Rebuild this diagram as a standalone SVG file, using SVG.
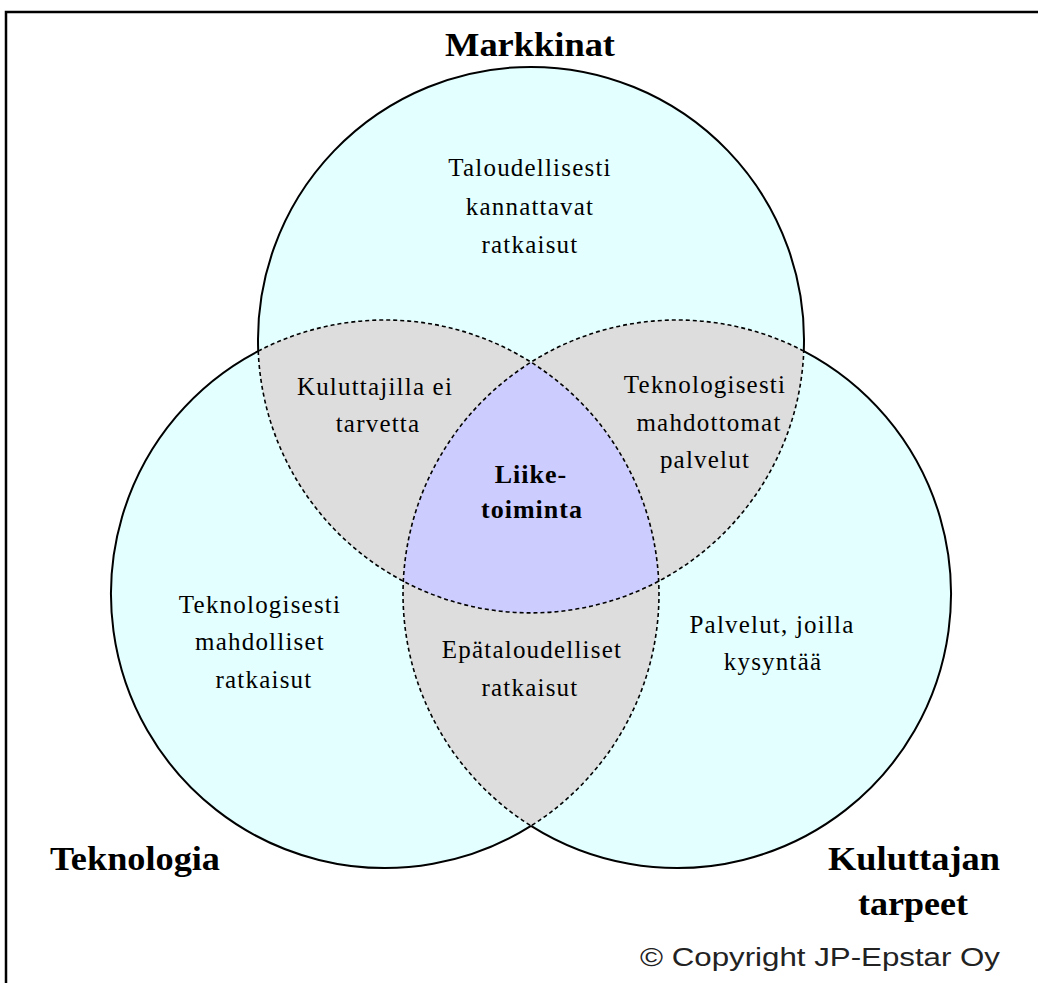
<svg xmlns="http://www.w3.org/2000/svg" width="1038" height="983" viewBox="0 0 1038 983">
  <style>
    .bg { fill: #ffffff; }
    .set { fill: #e3ffff; }
    .pair { fill: #dddddd; }
    .core { fill: #ccccff; }
    .outer { fill: none; stroke: #000; stroke-width: 2; }
    .inner { fill: none; stroke: #000; stroke-width: 1.6; stroke-dasharray: 4 3; }
    .frame { fill: none; stroke: #000; stroke-width: 2.5; }
    .lbl { font-family: "Liberation Serif", "Times New Roman", serif; font-size: 25px; letter-spacing: 1.2px; fill: #000; text-anchor: middle; }
    .ttl { font-family: "Liberation Serif", "Times New Roman", serif; font-size: 34px; font-weight: bold; fill: #000; }
    .core-lbl { font-family: "Liberation Serif", "Times New Roman", serif; font-size: 26px; font-weight: bold; letter-spacing: 1px; fill: #000; text-anchor: middle; }
    .copy { font-family: "Liberation Sans", Arial, sans-serif; font-size: 26px; fill: #222; }
  </style>
  <defs>
    <clipPath id="clipT"><circle cx="531" cy="340" r="273"/></clipPath>
    <clipPath id="clipL"><circle cx="385" cy="594" r="274"/></clipPath>
  </defs>

  <rect class="bg" x="0" y="0" width="1038" height="983"/>
  <path class="frame" d="M6,983 V12 H1038"/>

  <!-- circle fills -->
  <g id="set-markkinat"><circle class="set" cx="531" cy="340" r="273"/></g>
  <g id="set-teknologia"><circle class="set" cx="385" cy="594" r="274"/></g>
  <g id="set-tarpeet"><circle class="set" cx="677" cy="594" r="274"/></g>

  <!-- pairwise overlaps -->
  <g id="overlap-tl"><circle class="pair" cx="385" cy="594" r="274" clip-path="url(#clipT)"/></g>
  <g id="overlap-tr"><circle class="pair" cx="677" cy="594" r="274" clip-path="url(#clipT)"/></g>
  <g id="overlap-lr"><circle class="pair" cx="677" cy="594" r="274" clip-path="url(#clipL)"/></g>

  <!-- triple overlap -->
  <g id="overlap-core" clip-path="url(#clipT)"><circle class="core" cx="677" cy="594" r="274" clip-path="url(#clipL)"/></g>

  <!-- outlines: solid outside, dashed inside -->
  <g id="connectors">
    <path class="outer" d="M258.23,351.09 A273,273 0 1 1 803.77,351.09"/>
    <path class="inner" d="M258.23,351.09 A273,273 0 0 0 803.77,351.09"/>
    <path class="outer" d="M258.23,351.09 A274,274 0 1 0 531,825.86"/>
    <path class="inner" d="M258.23,351.09 A274,274 0 0 1 531,825.86"/>
    <path class="outer" d="M803.77,351.09 A274,274 0 1 1 531,825.86"/>
    <path class="inner" d="M803.77,351.09 A274,274 0 0 0 531,825.86"/>
  </g>

  <!-- set titles -->
  <g id="title-markkinat"><text class="ttl" x="445" y="56" textLength="170" lengthAdjust="spacingAndGlyphs">Markkinat</text></g>
  <g id="title-teknologia"><text class="ttl" x="50" y="870" textLength="170" lengthAdjust="spacingAndGlyphs">Teknologia</text></g>
  <g id="title-tarpeet">
    <text class="ttl" x="828" y="870" textLength="172" lengthAdjust="spacingAndGlyphs">Kuluttajan</text>
    <text class="ttl" x="858" y="915" textLength="110" lengthAdjust="spacingAndGlyphs">tarpeet</text>
  </g>

  <!-- region labels -->
  <g id="label-markkinat">
    <text class="lbl" x="530" y="176">Taloudellisesti</text>
    <text class="lbl" x="530" y="215">kannattavat</text>
    <text class="lbl" x="530" y="253">ratkaisut</text>
  </g>
  <g id="label-tl">
    <text class="lbl" x="375" y="395">Kuluttajilla ei</text>
    <text class="lbl" x="378" y="432">tarvetta</text>
  </g>
  <g id="label-tr">
    <text class="lbl" x="705" y="393">Teknologisesti</text>
    <text class="lbl" x="709" y="431">mahdottomat</text>
    <text class="lbl" x="705" y="468">palvelut</text>
  </g>
  <g id="label-core">
    <text class="core-lbl" x="531" y="483">Liike-</text>
    <text class="core-lbl" x="532" y="518">toiminta</text>
  </g>
  <g id="label-teknologia">
    <text class="lbl" x="260" y="613">Teknologisesti</text>
    <text class="lbl" x="260" y="650">mahdolliset</text>
    <text class="lbl" x="264" y="688">ratkaisut</text>
  </g>
  <g id="label-lr">
    <text class="lbl" x="532" y="658">Epätaloudelliset</text>
    <text class="lbl" x="530" y="696">ratkaisut</text>
  </g>
  <g id="label-tarpeet">
    <text class="lbl" x="772" y="633">Palvelut, joilla</text>
    <text class="lbl" x="773" y="670">kysyntää</text>
  </g>

  <g id="copyright"><text class="copy" x="640" y="966" textLength="360" lengthAdjust="spacingAndGlyphs">© Copyright JP-Epstar Oy</text></g>
</svg>
